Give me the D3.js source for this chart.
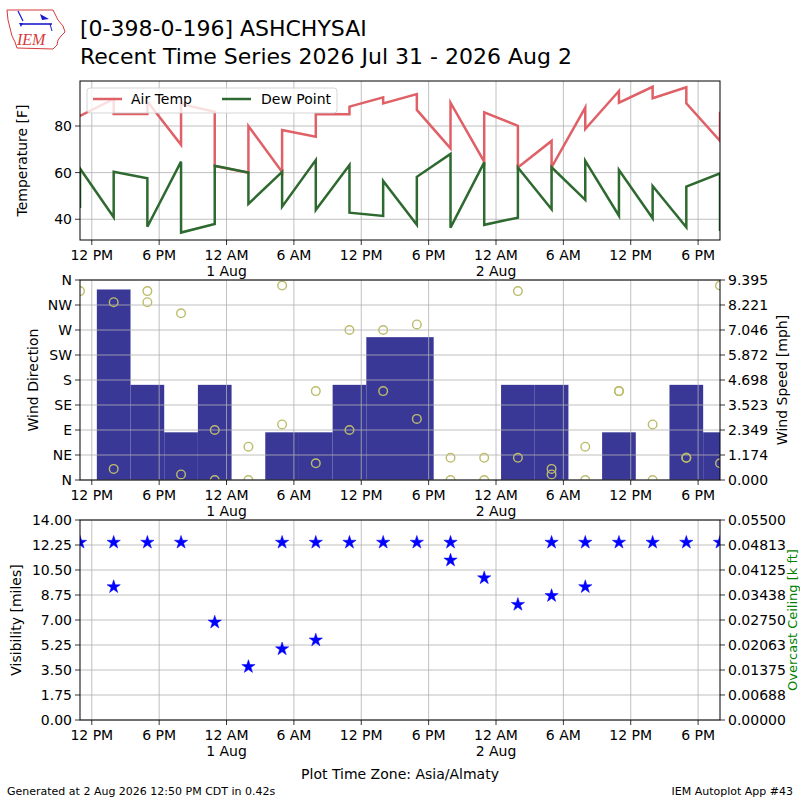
<!DOCTYPE html>
<html><head><meta charset="utf-8">
<script src="https://cdn.jsdelivr.net/npm/d3@7"></script>
<style>body{margin:0;background:#fff} svg{display:block;font-family:"DejaVu Sans",sans-serif}</style>
</head><body><svg id="c" width="800" height="800"></svg>
<script>
// ---------------- data ----------------
const obsTimes = [
  "2026-07-31T10:57","2026-07-31T13:57","2026-07-31T16:57","2026-07-31T19:57","2026-07-31T22:57",
  "2026-08-01T01:57","2026-08-01T04:57","2026-08-01T07:57","2026-08-01T10:57","2026-08-01T13:57",
  "2026-08-01T16:57","2026-08-01T19:57","2026-08-01T22:57","2026-08-02T01:57","2026-08-02T04:57",
  "2026-08-02T07:57","2026-08-02T10:57","2026-08-02T13:57","2026-08-02T16:57","2026-08-02T19:57"
];
// each time has an arriving value (A) and a following value (B)
const airTempA = [84.3, 91.6, 85.1, 71.9, 86.1, 60.0, 60.3, 75.4, 85.0, 92.3, 93.7, 70.4, 64.7, 80.1, 73.6, 87.9, 95.0, 96.8, 96.6, 73.6];
const airTempB = [84.3, 85.1, 90.5, 89.4, 62.9, 80.0, 78.3, 85.1, 88.3, 89.7, 86.9, 90.0, 85.9, 62.2, 62.3, 78.7, 90.0, 91.9, 89.7, 86.1];
const dewPointA = [44.8, 40.9, 57.6, 64.7, 38.0, 60.0, 60.3, 65.4, 63.3, 41.4, 37.6, 68.0, 64.4, 40.7, 44.3, 48.3, 41.5, 40.4, 36.6, 59.7];
const dewPointB = [61.8, 60.4, 36.8, 34.3, 62.9, 46.6, 45.4, 44.0, 42.8, 56.4, 58.2, 36.4, 37.6, 62.2, 62.3, 65.0, 61.1, 54.3, 54.0, 35.0];
const windSpeed = [0, 8.95, 4.47, 2.24, 4.47, 0, 2.24, 2.24, 4.47, 6.71, 6.71, 0, 0, 4.47, 4.47, 0, 2.24, 0, 4.47, 2.24];
const windDir1 = [340, 320, 340, 300, 90, 60, 350, 160, 270, 270, 280, 40, 40, 340, 20, 60, 160, 100, 40, 350];
const windDir2 = [null, 20, 320, 10, 0, 0, 100, 30, 90, 160, 110, 0, 0, 40, 10, 0, 160, 0, 40, 30];
const visib1 = [12.43, 12.43, 12.43, 12.43, 6.84, 3.73, 12.43, 12.43, 12.43, 12.43, 12.43, 12.43, 9.94, 8.08, 12.43, 12.43, 12.43, 12.43, 12.43, 12.43];
const visib2 = [null, 9.32, null, null, null, null, 4.97, 5.59, null, null, null, 11.18, null, null, 8.70, 9.32, null, null, null, null];

const tempTicks = [40, 60, 80];
const dirTicks = [0, 45, 90, 135, 180, 225, 270, 315, 360];
const dirTickLabels = ["N", "NE", "E", "SE", "S", "SW", "W", "NW", "N"];
const speedTickLabels = ["0.000", "1.174", "2.349", "3.523", "4.698", "5.872", "7.046", "8.221", "9.395"];
const visTickLabels = ["0.00", "1.75", "3.50", "5.25", "7.00", "8.75", "10.50", "12.25", "14.00"];
const ceilTickLabels = ["0.00000", "0.00688", "0.01375", "0.02063", "0.02750", "0.03438", "0.04125", "0.04813", "0.05500"];

// ---------------- setup ----------------
const parse = d3.utcParse("%Y-%m-%dT%H:%M");
const times = obsTimes.map(parse);
const svg = d3.select("#c");
const X0 = 80, X1 = 720;
const GRID = "#b0b0b0", FS = 14;
const x = d3.scaleUtc().domain([times[0], times[times.length - 1]]).range([X0, X1]);
const xTicks = x.ticks(d3.utcHour.every(6)).filter(t => t.getUTCHours() % 6 === 0);
const hourLabel = t => { const h = t.getUTCHours(); return (h % 12 === 0 ? 12 : h % 12) + (h < 12 ? " AM" : " PM"); };
const dayLabel = d3.utcFormat("%-d %b");

const panels = [
  {top: 81, bottom: 240},
  {top: 280, bottom: 480},
  {top: 520, bottom: 720}
];

const defs = svg.append("defs");
panels.forEach((p, i) => {
  defs.append("clipPath").attr("id", "clip" + i).append("rect")
    .attr("x", X0).attr("y", p.top).attr("width", X1 - X0).attr("height", p.bottom - p.top);
});

function drawXGrid(g, p) {
  g.selectAll(null).data(xTicks).join("line")
    .attr("x1", d => x(d)).attr("x2", d => x(d)).attr("y1", p.top).attr("y2", p.bottom)
    .attr("stroke", GRID).attr("stroke-width", 0.8);
}
function drawYGrid(g, ys) {
  g.selectAll(null).data(ys).join("line")
    .attr("x1", X0).attr("x2", X1).attr("y1", d => d).attr("y2", d => d)
    .attr("stroke", GRID).attr("stroke-width", 0.8);
}
function drawFrame(p) {
  svg.append("rect").attr("x", X0).attr("y", p.top).attr("width", X1 - X0).attr("height", p.bottom - p.top)
    .attr("fill", "none").attr("stroke", "#000").attr("stroke-width", 1);
}
function drawXAxis(p) {
  const g = svg.append("g");
  xTicks.forEach(t => {
    const xx = x(t);
    g.append("line").attr("x1", xx).attr("x2", xx).attr("y1", p.bottom).attr("y2", p.bottom + 5).attr("stroke", "#000").attr("stroke-width", 0.8);
    g.append("text").attr("x", xx).attr("y", p.bottom + 20).attr("text-anchor", "middle").attr("font-size", FS).text(hourLabel(t));
    if (t.getUTCHours() === 0) {
      g.append("text").attr("x", xx).attr("y", p.bottom + 36).attr("text-anchor", "middle").attr("font-size", FS).text(dayLabel(t));
    }
  });
}
function drawYAxisLeft(p, scale, vals, labels) {
  const g = svg.append("g");
  vals.forEach((v, i) => {
    const yy = scale(v);
    g.append("line").attr("x1", X0 - 5).attr("x2", X0).attr("y1", yy).attr("y2", yy).attr("stroke", "#000").attr("stroke-width", 0.8);
    g.append("text").attr("x", X0 - 8).attr("y", yy).attr("dy", "0.36em").attr("text-anchor", "end").attr("font-size", FS).text(labels[i]);
  });
}
function drawYAxisRight(p, scale, vals, labels) {
  const g = svg.append("g");
  vals.forEach((v, i) => {
    const yy = scale(v);
    g.append("line").attr("x1", X1).attr("x2", X1 + 5).attr("y1", yy).attr("y2", yy).attr("stroke", "#000").attr("stroke-width", 0.8);
    g.append("text").attr("x", X1 + 8).attr("y", yy).attr("dy", "0.36em").attr("text-anchor", "start").attr("font-size", FS).text(labels[i]);
  });
}
function yLabel(txt, xx, yy, color, fs) {
  svg.append("text").attr("transform", `translate(${xx},${yy}) rotate(-90)`).attr("text-anchor", "middle")
    .attr("font-size", fs || FS).attr("fill", color || "#000").text(txt);
}

// ---------------- panel 1: temperature ----------------
{
  const p = panels[0];
  const y = d3.scaleLinear().domain([31.1, 99.3]).range([p.bottom, p.top]);
  const g = svg.append("g");
  drawXGrid(g, p);
  drawYGrid(g, tempTicks.map(y));
  const pts = (A, B) => times.flatMap((t, i) => [[t, A[i]], [t, B[i]]]);
  const line = d3.line().x(d => x(d[0])).y(d => y(d[1]));
  const lg = svg.append("g").attr("clip-path", "url(#clip0)");
  lg.append("path").attr("d", line(pts(airTempA, airTempB))).attr("fill", "none").attr("stroke", "#df6167").attr("stroke-width", 2.5);
  lg.append("path").attr("d", line(pts(dewPointA, dewPointB))).attr("fill", "none").attr("stroke", "#2e6a30").attr("stroke-width", 2.5);
  drawFrame(p);
  drawXAxis(p);
  drawYAxisLeft(p, y, tempTicks, tempTicks.map(String));
  yLabel("Temperature [F]", 27, (p.top + p.bottom) / 2);
  // legend
  const leg = svg.append("g");
  leg.append("rect").attr("x", 87).attr("y", 88).attr("width", 250).attr("height", 25).attr("rx", 3)
    .attr("fill", "#fff").attr("fill-opacity", 0.8).attr("stroke", "#ccc").attr("stroke-width", 0.8);
  leg.append("line").attr("x1", 93).attr("x2", 122).attr("y1", 99).attr("y2", 99).attr("stroke", "#df6167").attr("stroke-width", 2.5);
  leg.append("text").attr("x", 131).attr("y", 104).attr("font-size", FS).text("Air Temp");
  leg.append("line").attr("x1", 222).attr("x2", 251).attr("y1", 99).attr("y2", 99).attr("stroke", "#2e6a30").attr("stroke-width", 2.5);
  leg.append("text").attr("x", 261).attr("y", 104).attr("font-size", FS).text("Dew Point");
}

// ---------------- panel 2: wind ----------------
{
  const p = panels[1];
  const yd = d3.scaleLinear().domain([0, 360]).range([p.bottom, p.top]);
  const speedTicks = speedTickLabels.map(Number);
  const ys = d3.scaleLinear().domain([0, speedTicks[speedTicks.length - 1]]).range([p.bottom, p.top]);
  const bg = svg.append("g").attr("clip-path", "url(#clip1)");
  const halfW = (x(d3.utcHour.offset(times[0], 3)) - x(times[0])) / 2;
  bg.selectAll(null).data(times.map((t, i) => [t, windSpeed[i]]).filter(d => d[1] > 0)).join("rect")
    .attr("x", d => x(d[0]) - halfW).attr("width", halfW * 2)
    .attr("y", d => ys(d[1])).attr("height", d => p.bottom - ys(d[1]))
    .attr("fill", "#3a3897");
  const g = svg.append("g");
  drawXGrid(g, p);
  drawYGrid(g, dirTicks.map(yd));
  const cg = svg.append("g").attr("clip-path", "url(#clip1)");
  const dirs = [];
  times.forEach((t, i) => {
    if (windDir1[i] != null) dirs.push([t, windDir1[i]]);
    if (windDir2[i] != null) dirs.push([t, windDir2[i]]);
  });
  cg.selectAll(null).data(dirs).join("circle")
    .attr("cx", d => x(d[0])).attr("cy", d => yd(d[1])).attr("r", 4.3)
    .attr("fill", "none").attr("stroke", "#bcbc6c").attr("stroke-width", 1.4);
  drawFrame(p);
  drawXAxis(p);
  drawYAxisLeft(p, yd, dirTicks, dirTickLabels);
  drawYAxisRight(p, ys, speedTicks, speedTickLabels);
  yLabel("Wind Direction", 38, (p.top + p.bottom) / 2);
  yLabel("Wind Speed [mph]", 787, (p.top + p.bottom) / 2);
}

// ---------------- panel 3: visibility ----------------
{
  const p = panels[2];
  const visTicks = visTickLabels.map(Number);
  const y = d3.scaleLinear().domain([0, 14]).range([p.bottom, p.top]);
  const ceilTicks = ceilTickLabels.map(Number);
  const yc = d3.scaleLinear().domain([0, 0.055]).range([p.bottom, p.top]);
  const g = svg.append("g");
  drawXGrid(g, p);
  drawYGrid(g, visTicks.map(y));
  const sg = svg.append("g").attr("clip-path", "url(#clip2)");
  const vis = [];
  times.forEach((t, i) => {
    if (visib1[i] != null) vis.push([t, visib1[i]]);
    if (visib2[i] != null) vis.push([t, visib2[i]]);
  });
  const star = d3.symbol().type(d3.symbolStar).size(55);
  sg.selectAll(null).data(vis).join("path")
    .attr("transform", d => `translate(${x(d[0])},${y(d[1])})`).attr("d", star)
    .attr("fill", "#0000ff").attr("stroke", "#0000ff").attr("stroke-width", 0.5);
  drawFrame(p);
  drawXAxis(p);
  drawYAxisLeft(p, y, visTicks, visTickLabels);
  drawYAxisRight(p, yc, ceilTicks, ceilTickLabels);
  yLabel("Visibility [miles]", 21, (p.top + p.bottom) / 2);
  yLabel("Overcast Ceiling [k ft]", 796.5, (p.top + p.bottom) / 2, "#008000", 13);
}

// ---------------- titles & footer ----------------
svg.append("text").attr("x", 80).attr("y", 36).attr("font-size", 22).text("[0-398-0-196] ASHCHYSAI");
svg.append("text").attr("x", 80).attr("y", 64).attr("font-size", 22).text("Recent Time Series 2026 Jul 31 - 2026 Aug 2");
svg.append("text").attr("x", 400).attr("y", 779).attr("text-anchor", "middle").attr("font-size", FS).text("Plot Time Zone: Asia/Almaty");
svg.append("text").attr("x", 7).attr("y", 795).attr("font-size", 11).text("Generated at 2 Aug 2026 12:50 PM CDT in 0.42s");
svg.append("text").attr("x", 793).attr("y", 795).attr("text-anchor", "end").attr("font-size", 11).text("IEM Autoplot App #43");

// logo
{
  const lg = svg.append("g");
  lg.append("path").attr("d", "M7,10 L53,10 L55,14 L58,20 L63,26 L65,32 L61,36 L58,40 L57,45 L53,49 L17,48 L15,42 L12,36 L10,28 L8,20 Z")
    .attr("fill", "#fff").attr("stroke", "#d63a3a").attr("stroke-width", 1);
  lg.append("line").attr("x1", 22).attr("x2", 52).attr("y1", 24).attr("y2", 24).attr("stroke", "#1a1ad0").attr("stroke-width", 1.6);
  lg.append("line").attr("x1", 18).attr("x2", 23).attr("y1", 11).attr("y2", 21).attr("stroke", "#1a1ad0").attr("stroke-width", 1.2);
  lg.append("path").attr("d", "M40,14 L49,19 L42,20 Z").attr("fill", "#1a1ad0");
  lg.append("path").attr("d", "M19,23 L23,23 L21,27 Z").attr("fill", "#1a1ad0");
  lg.append("line").attr("x1", 50).attr("x2", 52).attr("y1", 24).attr("y2", 31).attr("stroke", "#1a1ad0").attr("stroke-width", 1);
  lg.append("text").attr("x", 17).attr("y", 45).attr("font-family", "Liberation Serif, serif").attr("font-style", "italic")
    .attr("font-size", 16).attr("fill", "#d63a3a").text("IEM");
}
</script>
</body></html>
